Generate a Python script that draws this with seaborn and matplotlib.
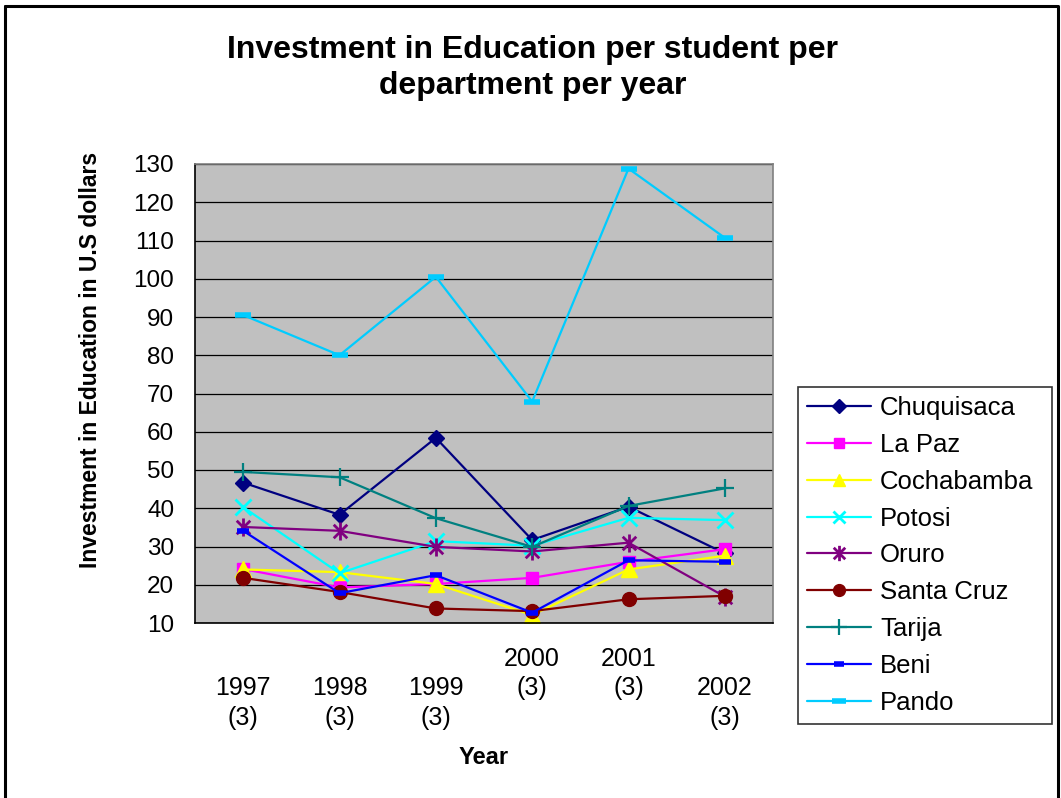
import matplotlib
matplotlib.use("Agg")
import matplotlib.pyplot as plt
from matplotlib.path import Path
from matplotlib.lines import Line2D
import seaborn as sns

sns.set_style("white")
plt.rcParams['font.family'] = ['Liberation Sans', 'DejaVu Sans']
plt.rcParams['text.color'] = 'black'
plt.rcParams['axes.labelcolor'] = 'black'
plt.rcParams['xtick.color'] = 'black'
plt.rcParams['ytick.color'] = 'black'

# ---------------- data ----------------
years = [1997, 1998, 1999, 2000, 2001, 2002]
year_labels = ["\n1997\n(3)", "\n1998\n(3)", "\n1999\n(3)", "2000\n(3)", "2001\n(3)", "\n2002\n(3)"]
departments = ["Chuquisaca", "La Paz", "Cochabamba", "Potosi", "Oruro",
               "Santa Cruz", "Tarija", "Beni", "Pando"]
chuquisaca = [46.7, 38.3, 58.4, 31.7, 40.4, 28.2]
la_paz     = [24.1, 19.3, 20.2, 21.8, 26.0, 29.3]
cochabamba = [24.0, 23.3, 20.2, 12.1, 24.0, 27.6]
potosi     = [40.3, 23.0, 31.4, 30.2, 37.5, 36.9]
oruro      = [35.1, 34.1, 29.9, 28.7, 31.0, 16.9]
santa_cruz = [21.8, 18.1, 13.8, 13.1, 16.2, 17.1]
tarija     = [49.5, 48.1, 37.4, 29.9, 40.6, 45.2]
beni       = [34.1, 17.8, 22.5, 12.7, 26.4, 26.0]
pando      = [90.5, 80.0, 100.5, 67.9, 128.8, 110.7]
series = [chuquisaca, la_paz, cochabamba, potosi, oruro, santa_cruz, tarija, beni, pando]
y_ticks = list(range(10, 131, 10))

# ---------------- styles ----------------
asterisk = Path([(0, -1), (0, 1), (-0.75, -0.75), (0.75, 0.75), (-0.75, 0.75), (0.75, -0.75)],
                [Path.MOVETO, Path.LINETO, Path.MOVETO, Path.LINETO, Path.MOVETO, Path.LINETO])
styles = [
    dict(color="#000080", marker="D", ms=8, mew=1),
    dict(color="#FF00FF", marker="s", ms=9, mew=1),
    dict(color="#FFFF00", marker="^", ms=11, mew=1),
    dict(color="#00FFFF", marker="x", ms=11, mew=2),
    dict(color="#800080", marker=asterisk, ms=13, mew=2),
    dict(color="#800000", marker="o", ms=10, mew=1),
    dict(color="#008080", marker="+", ms=13, mew=1.6),
    dict(color="#0000FF", marker="_", ms=8, mew=4),
    dict(color="#00CCFF", marker="_", ms=12, mew=4),
]

fig = plt.figure(figsize=(10.61, 7.98), dpi=100)
ax = fig.add_axes([195 / 1061, 1 - 623 / 798, (773 - 195) / 1061, (623 - 164) / 798])
ax.set_facecolor("#C0C0C0")

handles = []
for name, vals, st in zip(departments, series, styles):
    sns.lineplot(x=years, y=vals, ax=ax, color=st["color"], linewidth=1.6,
                 marker=st["marker"], markersize=st["ms"], markeredgewidth=st["mew"],
                 markerfacecolor=st["color"], markeredgecolor=st["color"], label=name)
    handles.append(Line2D([], [], color=st["color"], linewidth=1.6, marker=st["marker"],
                          markersize=st["ms"] * 0.85, markeredgewidth=st["mew"],
                          markerfacecolor=st["color"], markeredgecolor=st["color"]))
if ax.get_legend() is not None:
    ax.get_legend().remove()

ax.set_xlim(1996.5, 2002.5)
ax.set_ylim(10, 130)
ax.set_yticks(y_ticks)
ax.set_xticks(years)
ax.set_xticklabels(year_labels, fontsize=18, va="top", linespacing=1.3)
ax.set_xticks([1996.5 + i for i in range(7)], minor=True)
ax.tick_params(axis="x", which="major", length=0, pad=17)
ax.tick_params(axis="x", which="minor", length=6, width=1, direction="out", color="black")
ax.tick_params(axis="y", which="major", length=7, width=1, direction="out", color="black",
               labelsize=17.5, pad=8)
ax.yaxis.grid(True, color="black", linewidth=0.9)
ax.xaxis.grid(False)
ax.set_xlabel("")
ax.set_ylabel("")
for s in ["left", "bottom"]:
    ax.spines[s].set_color("black")
    ax.spines[s].set_linewidth(1.2)
for s in ["top", "right"]:
    ax.spines[s].set_color("#808080")
    ax.spines[s].set_linewidth(1.2)
    ax.spines[s].set_visible(True)

fig.text(0.502, 1 - 68 / 798, "Investment in Education per student per\ndepartment per year",
         ha="center", va="center", fontsize=23, fontweight="bold", linespacing=1.3)
fig.text(484 / 1061, 1 - 757 / 798, "Year", ha="center", va="center", fontsize=17, fontweight="bold")
fig.text(91 / 1061, 1 - 360 / 798, "Investment in Education in U.S dollars", ha="center", va="center",
         rotation=90, fontsize=16.5, fontweight="bold")

leg = fig.legend(handles, departments, loc="upper left",
                 bbox_to_anchor=(798 / 1061, 1 - 723 / 798, (1052 - 798) / 1061, (723 - 387) / 798),
                 mode="expand", fontsize=18.5, frameon=True, fancybox=False, borderaxespad=0,
                 handlelength=2.5, handletextpad=0.35, labelspacing=0.5, borderpad=0.35)
leg.get_frame().set_edgecolor("black")
leg.get_frame().set_linewidth(1.2)

# figure border
fig.add_artist(Line2D([5 / 1061, 1057 / 1061], [1 - 6 / 798, 1 - 6 / 798], color="black", lw=2.2,
                      transform=fig.transFigure))
fig.add_artist(Line2D([5 / 1061, 5 / 1061], [0, 1 - 6 / 798], color="black", lw=2.2,
                      transform=fig.transFigure))
fig.add_artist(Line2D([1058 / 1061, 1058 / 1061], [0, 1 - 6 / 798], color="black", lw=2.2,
                      transform=fig.transFigure))

fig.savefig("out.png", dpi=100, facecolor="white")
